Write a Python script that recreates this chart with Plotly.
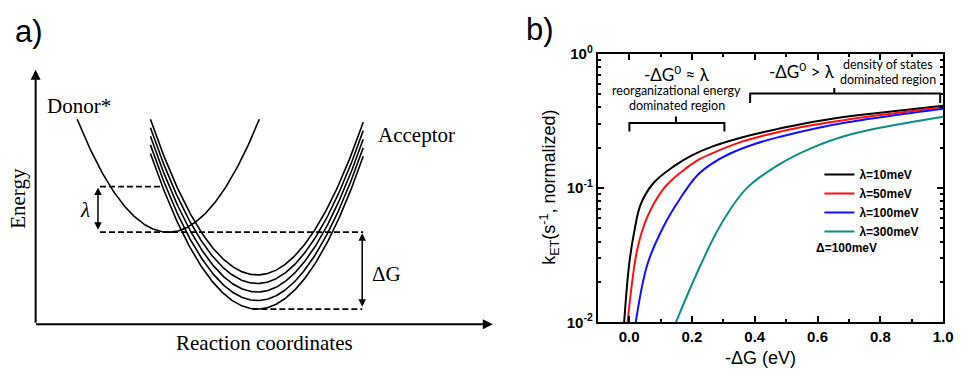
import numpy as np
import plotly.graph_objects as go

# ---------------- Panel a (schematic Marcus parabolas), pixel-space schematic -------------
DONOR_VERTEX = (170, 233)            # (x, y) of Donor* parabola minimum
DONOR_XSPAN = (78, 262)
ACCEPTOR_VERTEX_X = 260
ACCEPTOR_VERTEX_Y = [278, 287, 296, 305, 314]
ACCEPTOR_XSPAN = (152, 367)
CURVATURE = 0.01406
LAMBDA_TOP_Y = 185                   # upper level of lambda marker
BASE_Y = DONOR_VERTEX[1]             # donor minimum level
DG_BOTTOM_Y = ACCEPTOR_VERTEX_Y[-1]  # lowest acceptor minimum

# ---------------- Panel b data -------------
LAMBDA_LABELS = ["λ=10meV", "λ=50meV", "λ=100meV", "λ=300meV"]
COLORS = ["#000000", "#ff1010", "#1010ff", "#0e8c88"]
DG_10 = [-0.016, 0.0, 0.016, 0.037, 0.079, 0.142, 0.2, 0.268, 0.35, 0.426, 0.55, 0.688, 0.85, 1.0]
K_10 = [0.01, 0.027, 0.047, 0.076, 0.11, 0.145, 0.175, 0.205, 0.235, 0.26, 0.30, 0.34, 0.375, 0.41]
DG_50 = [-0.005, 0.026, 0.058, 0.11, 0.163, 0.22, 0.268, 0.35, 0.426, 0.55, 0.7, 0.85, 1.0]
K_50 = [0.01, 0.035, 0.061, 0.099, 0.13, 0.162, 0.183, 0.218, 0.245, 0.285, 0.325, 0.362, 0.40]
DG_100 = [0.021, 0.058, 0.11, 0.163, 0.215, 0.26, 0.32, 0.4, 0.478, 0.6, 0.7, 0.85, 1.0]
K_100 = [0.01, 0.027, 0.052, 0.084, 0.123, 0.15, 0.18, 0.213, 0.24, 0.28, 0.31, 0.35, 0.39]
DG_300 = [0.149, 0.215, 0.289, 0.373, 0.478, 0.584, 0.69, 0.794, 0.9, 1.0]
K_300 = [0.01, 0.023, 0.052, 0.099, 0.15, 0.20, 0.245, 0.28, 0.31, 0.34]
SERIES = [(DG_10, K_10), (DG_50, K_50), (DG_100, K_100), (DG_300, K_300)]
X_TICKS = [0.0, 0.2, 0.4, 0.6, 0.8, 1.0]
Y_TICKS = [0.01, 0.1, 1]
Y_TICKTEXT = ["10<sup>-2</sup>", "10<sup>-1</sup>", "10<sup>0</sup>"]
Y_MINOR = [m * 10.0 ** e for e in (-2, -1) for m in range(2, 10)]

W, H = 966, 375
fig = go.Figure()

# ----- panel a curves -----
def parabola(x0, y0, span):
    xs = np.linspace(span[0], span[1], 200)
    return xs, y0 - CURVATURE * (xs - x0) ** 2

xs, ys = parabola(DONOR_VERTEX[0], DONOR_VERTEX[1], DONOR_XSPAN)
fig.add_trace(go.Scatter(x=xs, y=ys, mode="lines", line=dict(color="black", width=1.6),
                         showlegend=False, hoverinfo="skip", xaxis="x", yaxis="y"))
for vy in ACCEPTOR_VERTEX_Y:
    xs, ys = parabola(ACCEPTOR_VERTEX_X, vy, ACCEPTOR_XSPAN)
    fig.add_trace(go.Scatter(x=xs, y=ys, mode="lines", line=dict(color="black", width=1.6),
                             showlegend=False, hoverinfo="skip", xaxis="x", yaxis="y"))

dash = dict(color="black", width=1.8, dash="6px,3px")
for (xa, xb, yy) in [(101, 162, LAMBDA_TOP_Y), (101, 367, BASE_Y), (255, 366, DG_BOTTOM_Y)]:
    fig.add_trace(go.Scatter(x=[xa, xb], y=[yy, yy], mode="lines", line=dash,
                             showlegend=False, hoverinfo="skip", xaxis="x", yaxis="y"))

# ----- panel b curves -----
for (dg, k), name, col in zip(SERIES, LAMBDA_LABELS, COLORS):
    fig.add_trace(go.Scatter(x=dg, y=k, mode="lines", name="<b>" + name + "</b>",
                             line=dict(color=col, width=2, shape="spline", smoothing=1.0),
                             xaxis="x2", yaxis="y2"))

annotations = []

def arrow(x, y, ax, ay, both=False, width=1.5):
    d = dict(x=x, y=y, ax=ax, ay=ay, xref="x", yref="y", axref="x", ayref="y",
             text="", showarrow=True, arrowhead=2, arrowsize=1, arrowwidth=width,
             arrowcolor="black", standoff=0, startstandoff=0)
    if both:
        d.update(arrowside="end+start", startarrowhead=2, startarrowsize=1)
    annotations.append(d)

def text(x, y, s, size, family="Liberation Serif", angle=0, weight="normal", xanchor="center"):
    annotations.append(dict(x=x, y=y, xref="x", yref="y", text=s, showarrow=False,
                            textangle=angle, xanchor=xanchor, yanchor="middle",
                            font=dict(family=family, size=size, color="black", weight=weight)))

# axes of the schematic
arrow(36, 62, 36, 330, width=2)
arrow(498, 330, 35, 330, width=2)
# lambda and dG arrows
arrow(99, LAMBDA_TOP_Y + 1, 99, BASE_Y - 1, both=True)
arrow(366, BASE_Y + 1, 366, DG_BOTTOM_Y - 1, both=True)

text(80, 100, "Donor*", 21)
text(421, 131, "Acceptor", 21)
text(18, 197, "Energy", 21, angle=-90)
text(267, 350, "Reaction coordinates", 21)
text(86, 210, "<i>λ</i>", 21)
text(391, 277, "ΔG", 21)
text(29, 22, "a)", 31, family="Liberation Sans")
text(546, 20, "b)", 31, family="Liberation Sans")

# panel b annotations
lab = "Lato"
text(684, 66, "-ΔG<sup>0</sup> ≈ λ", 17, family=lab)
text(684, 84, "reorganizational energy", 12.5, family=lab)
text(684, 100, "dominated region", 12.5, family=lab)
text(810, 63, "-ΔG<sup>0</sup> > λ", 17, family=lab)
text(897, 56, "density of states", 12.5, family=lab)
text(897, 72, "dominated region", 12.5, family=lab)
text(823, 250, "<b>Δ=100meV</b>", 12, family="Liberation Sans", xanchor="left")
text(768, 366, "-ΔG (eV)", 18, family="Liberation Sans")
text(555, 186, "k<sub>ET</sub>(s<sup>-1</sup>, normalized)", 18, family="Liberation Sans", angle=-90)

shapes = [
    dict(type="path", xref="x", yref="y", line=dict(color="black", width=2),
         path="M636,127 L636,118 L732,118 L732,127 M683,118 L683,111"),
    dict(type="path", xref="x", yref="y", line=dict(color="black", width=2),
         path="M758,97 L758,87 L950,87 L950,97 M843,87 L843,81"),
]

L, R, T, B = 604, 953, 45, 328
axis_common = dict(showline=True, linecolor="black", linewidth=2, mirror="ticks",
                   ticks="inside", tickcolor="black", tickwidth=1.5, showgrid=False,
                   zeroline=False,
                   tickfont=dict(family="Liberation Sans", size=15, color="black", weight="bold"))

fig.update_layout(
    width=W, height=H, margin=dict(l=0, r=0, t=0, b=0),
    paper_bgcolor="white", plot_bgcolor="rgba(0,0,0,0)",
    xaxis=dict(domain=[0, 1], range=[0, W], visible=False, fixedrange=True),
    yaxis=dict(domain=[0, 1], range=[H, 0], visible=False, fixedrange=True),
    xaxis2=dict(domain=[L / W, R / W], anchor="y2", range=[-0.1, 1.0],
                tickvals=X_TICKS, ticktext=[f"{v:.1f}" for v in X_TICKS], ticklen=6,
                minor=dict(dtick=0.1, tick0=0, ticklen=3, ticks="inside", tickcolor="black"),
                **axis_common),
    yaxis2=dict(domain=[1 - B / H, 1 - T / H], anchor="x2", type="log", range=[-2, 0],
                tickvals=Y_TICKS, ticktext=Y_TICKTEXT, ticklen=6,
                minor=dict(tickmode="array", tickvals=Y_MINOR, ticklen=3, ticks="inside",
                           tickcolor="black"),
                **axis_common),
    showlegend=True,
    legend=dict(x=828 / W, y=1 - 157 / H, xanchor="left", yanchor="top",
                bgcolor="rgba(0,0,0,0)", tracegroupgap=0,
                font=dict(family="Liberation Sans", size=12, color="black")),
    annotations=annotations, shapes=shapes,
)

fig.write_html("out.html")
